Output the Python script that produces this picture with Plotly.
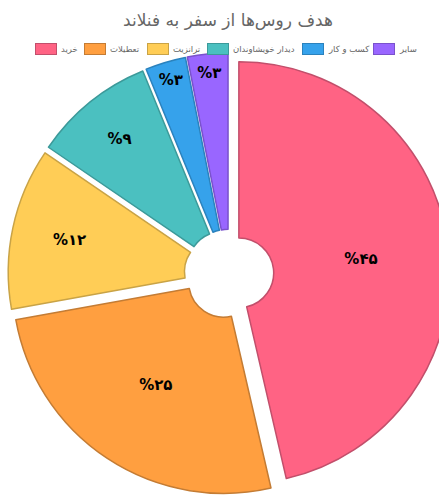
import plotly.graph_objects as go

# Data
categories = ["خرید", "تعطیلات", "ترانزیت", "دیدار خویشاوندان", "کسب و کار", "سایر"]
values = [45, 25, 12, 9, 3, 3]
title_text = "هدف روس‌ها از سفر به فنلاند"

fill_colors = ["#FF6384", "#FF9F40", "#FFCD56", "#4BC0C0", "#36A2EB", "#9966FF"]
line_colors = ["#C24F6B", "#C47C34", "#C9A346", "#3C9A9A", "#2B82BD", "#7A52CC"]

fa_digits = str.maketrans("0123456789", "۰۱۲۳۴۵۶۷۸۹")
labels_text = ["%" + str(v).translate(fa_digits) for v in values]

# Layout constants (pixels)
W, H = 520, 504            # canvas wider than window; window crops at 439
cx, cy = 229, 274          # pie centre
half = 221                 # half-size of pie box
legend_box_left = [35, 84, 147, 207, 302, 373]
legend_y = 49

fig = go.Figure(go.Pie(
    labels=categories,
    values=values,
    text=labels_text,
    textinfo="text",
    textposition="inside",
    insidetextorientation="horizontal",
    textfont=dict(family="DejaVu Sans", size=15, color="black", weight="bold"),
    sort=False,
    direction="clockwise",
    rotation=0,
    hole=0.165,
    pull=[0.047] * len(values),
    marker=dict(colors=fill_colors, line=dict(color=line_colors, width=1.5)),
    domain=dict(x=[(cx - half) / W, (cx + half) / W],
                y=[(H - cy - half) / H, (H - cy + half) / H]),
    hoverinfo="label+value",
    showlegend=False,
))

# Legend (Chart.js style: wide colour box followed by label)
annotations = []
for name, fc, lc, bx in zip(categories, fill_colors, line_colors, legend_box_left):
    annotations.append(dict(
        xref="paper", yref="paper", x=bx / W, y=1 - legend_y / H,
        xanchor="left", yanchor="middle", showarrow=False,
        text=" ", width=20, height=10, borderpad=0,
        bgcolor=fc, bordercolor=lc, borderwidth=1,
        font=dict(size=6),
    ))
    annotations.append(dict(
        xref="paper", yref="paper", x=(bx + 25) / W, y=1 - legend_y / H,
        xanchor="left", yanchor="middle", showarrow=False, borderpad=0,
        text=name, font=dict(size=8.5, color="#666666", family="DejaVu Sans"),
    ))

fig.update_layout(
    width=W, height=H,
    margin=dict(l=0, r=0, t=0, b=0),
    paper_bgcolor="white",
    font=dict(family="DejaVu Sans", color="#666666"),
    uniformtext=dict(minsize=15, mode="show"),
    title=dict(text=title_text, x=228 / W, xanchor="center", y=1 - 20 / H, yanchor="middle",
               font=dict(size=17, color="#666666", family="DejaVu Sans")),
    showlegend=False,
    annotations=annotations,
)

post = ("document.body.style.margin='0';document.body.style.overflow='hidden';"
        "document.documentElement.style.overflow='hidden';")
fig.write_html("out.html", post_script=post, config={"displayModeBar": False})
